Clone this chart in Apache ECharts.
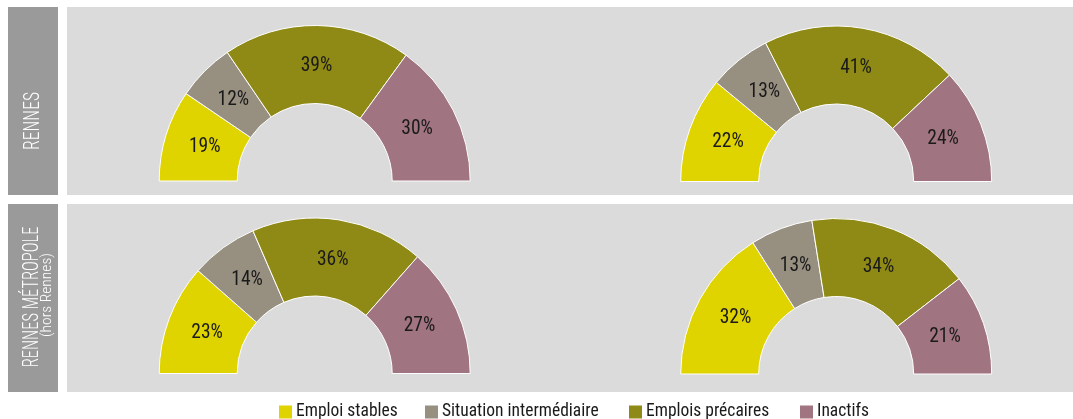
<!DOCTYPE html>
<html>
<head>
<meta charset="utf-8">
<script src="https://cdn.jsdelivr.net/npm/echarts@6/dist/echarts.min.js"></script>
<style>
html,body{margin:0;padding:0;background:#fff;}
#main{width:1073px;height:419px;}
</style>
</head>
<body>
<div id="main"></div>
<script>
var categories = ['Emploi stables', 'Situation intermédiaire', 'Emplois précaires', 'Inactifs'];
var rowLabels = ['RENNES', 'RENNES MÉTROPOLE'];
var rowSubLabels = ['', '(hors Rennes)'];
var rennesLeft = [19, 12, 39, 30];
var rennesRight = [22, 13, 41, 24];
var metroLeft = [23, 14, 36, 27];
var metroRight = [32, 13, 34, 21];

var colors = ['#DFD300', '#978F80', '#8F8A15', '#A07480'];
var FONT = "Roboto";
var STRETCH = 'condensed';

function toData(vals) {
  return vals.map(function (v, i) { return { name: categories[i], value: v }; });
}

function pieBase(vals, cx, cy) {
  return {
    type: 'pie',
    center: [cx, cy],
    startAngle: 180,
    endAngle: 0,
    clockwise: true,
    avoidLabelOverlap: false,
    silent: true,
    labelLine: { show: false },
    emphasis: { disabled: true },
    data: toData(vals)
  };
}

// visible ring
function pieRing(vals, cx, cy) {
  var s = pieBase(vals, cx, cy);
  s.radius = [77.5, 155.5];
  s.itemStyle = { borderColor: '#ffffff', borderWidth: 1 };
  s.label = { show: false };
  return s;
}

// transparent copy carrying the percentage labels (slightly inner mid-radius)
function pieLabels(vals, cx, cy) {
  var s = pieBase(vals, cx, cy);
  s.radius = [73, 151];
  s.z = 3;
  s.itemStyle = { color: 'rgba(0,0,0,0)', borderWidth: 0 };
  s.label = {
    show: true,
    position: 'inside',
    formatter: '{c}%',
    color: '#1a1a1a',
    fontSize: 19.5,
    fontStyle: STRETCH,
    fontWeight: 'normal',
    fontFamily: FONT,
    padding: [6, 0, 0, 0]
  };
  return s;
}

var legendLefts = [277, 423, 627, 798];
var legends = categories.map(function (c, i) {
  return {
    data: [{ name: c, itemStyle: { color: colors[i] } }],
    left: legendLefts[i],
    top: 403,
    icon: 'rect',
    itemWidth: 15,
    itemHeight: 15,
    selectedMode: false,
    padding: 0,
    textStyle: { fontSize: 17.5, color: '#1a1a1a', fontStyle: STRETCH, fontWeight: 'normal', fontFamily: FONT, padding: [6, 0, 0, -2] }
  };
});

function boxText(txt, x, y, size, scale, weight) {
  return { type: 'text', z: 10, x: x, y: y, rotation: Math.PI / 2, scaleX: scale,
    style: { text: txt, fill: '#ffffff', fontSize: size, fontStyle: STRETCH, fontWeight: weight, fontFamily: FONT, align: 'center', verticalAlign: 'middle' } };
}

var centers = [[314.7, 181], [836.2, 181.5], [314.7, 373.5], [836.2, 374]];
var values = [rennesLeft, rennesRight, metroLeft, metroRight];

var series = [];
values.forEach(function (v, i) { series.push(pieRing(v, centers[i][0], centers[i][1])); });
values.forEach(function (v, i) { series.push(pieLabels(v, centers[i][0], centers[i][1])); });

var option = {
  animation: false,
  color: colors,
  legend: legends,
  graphic: [
    { type: 'rect', z: -10, shape: { x: 8, y: 7, width: 50, height: 188 }, style: { fill: '#9A9A9A' } },
    { type: 'rect', z: -10, shape: { x: 67, y: 7, width: 1006, height: 188 }, style: { fill: '#DBDBDB' } },
    { type: 'rect', z: -10, shape: { x: 8, y: 204, width: 50, height: 188 }, style: { fill: '#9A9A9A' } },
    { type: 'rect', z: -10, shape: { x: 67, y: 204, width: 1006, height: 188 }, style: { fill: '#DBDBDB' } },
    boxText(rowLabels[0], 33, 121, 22, 0.8, 300),
    boxText(rowLabels[1], 32.5, 297, 22, 0.75, 300),
    boxText(rowSubLabels[1], 47.5, 295, 15.5, 1, 300)
  ],
  series: series
};

var chart = echarts.init(document.getElementById('main'), null, { renderer: 'canvas' });
chart.setOption(option);
</script>
</body>
</html>
